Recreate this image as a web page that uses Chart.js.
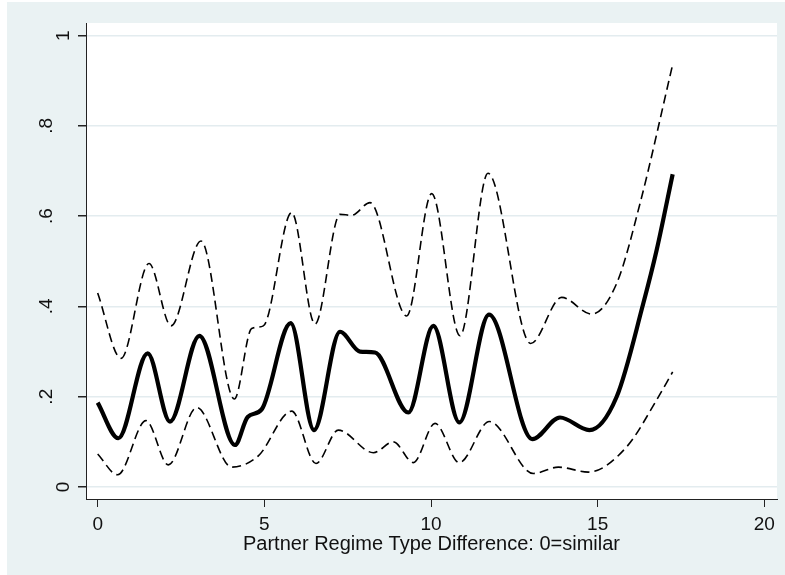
<!DOCTYPE html>
<html>
<head>
<meta charset="utf-8">
<script src="https://cdn.jsdelivr.net/npm/chart.js@4/dist/chart.umd.min.js"></script>
<style>
    body { margin: 0; background: #ffffff; }
    #frame { position: absolute; left: 7px; top: 2px; width: 778px; height: 573px; background: #EAF2F3; }
</style>
</head>
<body>
<div id="frame"><canvas id="kernelChart" width="778" height="573"></canvas></div>
<script>
// fitted line
const fitX = [0, 0.62, 1.5, 2.17, 3.05, 4.12, 4.5, 4.92, 5.79, 6.49, 7.27, 7.87, 8.32, 9.32, 10.07, 10.85, 11.74, 13.04, 13.87, 14.75, 15.57, 16.37, 16.77, 17.25];
const fitY = [0.187, 0.108, 0.296, 0.145, 0.335, 0.093, 0.155, 0.172, 0.363, 0.126, 0.344, 0.300, 0.298, 0.165, 0.357, 0.143, 0.382, 0.106, 0.154, 0.126, 0.200, 0.407, 0.525, 0.693];

// upper confidence band
const upperX = [0, 0.70, 1.54, 2.2, 3.1, 4.1, 4.62, 4.97, 5.82, 6.52, 7.27, 7.62, 8.17, 9.27, 10.02, 10.87, 11.71, 12.99, 13.92, 14.82, 15.57, 16.27, 17.25];
const upperY = [0.430, 0.285, 0.495, 0.357, 0.545, 0.195, 0.351, 0.357, 0.608, 0.361, 0.604, 0.602, 0.630, 0.379, 0.650, 0.335, 0.695, 0.318, 0.420, 0.383, 0.451, 0.628, 0.936];

// lower confidence band
const lowerX = [0, 0.6, 1.45, 2.12, 2.97, 4.02, 4.82, 5.82, 6.55, 7.22, 8.27, 8.87, 9.47, 10.12, 10.85, 11.75, 13.07, 13.82, 14.72, 15.87, 16.77, 17.25];
const lowerY = [0.073, 0.027, 0.147, 0.049, 0.176, 0.044, 0.069, 0.168, 0.052, 0.126, 0.076, 0.100, 0.054, 0.141, 0.054, 0.145, 0.030, 0.044, 0.033, 0.089, 0.193, 0.255];

const xTicks = [0, 5, 10, 15, 20];
const yTicks = [0, 0.2, 0.4, 0.6, 0.8, 1];
const xTitle = 'Partner Regime Type Difference: 0=similar';

function toPoints(xs, ys){
    return xs.map((x, i) => ({x: x, y: ys[i]}));
}

// stata style y labels: ".2" instead of "0.2"
function yLabel(value){
    let text = value === 0 || value === 1 ? String(value) : String(value).replace(/^0/, '');
    // single digit labels sit closer to the axis in the original
    return text.length === 1 ? ['', text] : text;
}

const plotBackground = {
    id: 'plotBackground',
    beforeDraw(chart){
        const {ctx, chartArea} = chart;
        ctx.save();
        ctx.fillStyle = '#ffffff';
        ctx.fillRect(chartArea.left, chartArea.top, chartArea.right - chartArea.left, chartArea.bottom - chartArea.top);
        ctx.restore();
    }
};

function drawChart(){
    const font = {family: "'Liberation Sans', Arial, sans-serif", size: 19};

    const data = {
        datasets: [{
            label: 'upper',
            data: toPoints(upperX, upperY),
            borderColor: '#000000',
            borderWidth: 1.6,
            borderDash: [9, 5]
        }, {
            label: 'lower',
            data: toPoints(lowerX, lowerY),
            borderColor: '#000000',
            borderWidth: 1.6,
            borderDash: [9, 5]
        }, {
            label: 'fit',
            data: toPoints(fitX, fitY),
            borderColor: '#000000',
            borderWidth: 4.2
        }]
    };

    const config = {
        type: 'line',
        data: data,
        plugins: [plotBackground],
        options: {
            responsive: false,
            animation: false,
            layout: {padding: {left: 0, top: 21, right: 8, bottom: 0}},
            elements: {
                point: {radius: 0},
                line: {tension: 0.4, cubicInterpolationMode: 'monotone'}
            },
            plugins: {
                legend: {display: false},
                tooltip: {enabled: false}
            },
            scales: {
                x: {
                    type: 'linear',
                    min: -0.35,
                    max: 20.38,
                    afterBuildTicks: scale => { scale.ticks = xTicks.map(v => ({value: v})); },
                    afterFit: scale => {
                        scale.height = 76;
                        scale.paddingLeft = 0;
                        scale.paddingRight = 0;
                    },
                    grid: {drawOnChartArea: false, tickLength: 8, tickColor: '#222222'},
                    border: {color: '#222222'},
                    ticks: {color: '#111111', font: font, padding: 6, maxRotation: 0},
                    title: {
                        display: true,
                        text: xTitle,
                        color: '#111111',
                        font: {family: font.family, size: 20, lineHeight: 1.2},
                        padding: {top: 0, bottom: 19}
                    }
                },
                y: {
                    min: -0.0266,
                    max: 1.028,
                    afterBuildTicks: scale => { scale.ticks = yTicks.map(v => ({value: v})); },
                    afterFit: scale => {
                        scale.width = 79;
                        scale.paddingTop = 0;
                        scale.paddingBottom = 0;
                    },
                    grid: {color: '#E3ECEF', lineWidth: 1.5, tickLength: 8, tickColor: '#222222'},
                    border: {color: '#222222'},
                    ticks: {
                        color: '#111111',
                        font: {family: font.family, size: 19, lineHeight: 1.79},
                        minRotation: 90,
                        maxRotation: 90,
                        crossAlign: 'center',
                        padding: 23.5,
                        callback: value => yLabel(value)
                    }
                }
            }
        }
    };

    new Chart(document.getElementById('kernelChart'), config);
}

document.addEventListener('DOMContentLoaded', function(){
    drawChart();
});
</script>
</body>
</html>
